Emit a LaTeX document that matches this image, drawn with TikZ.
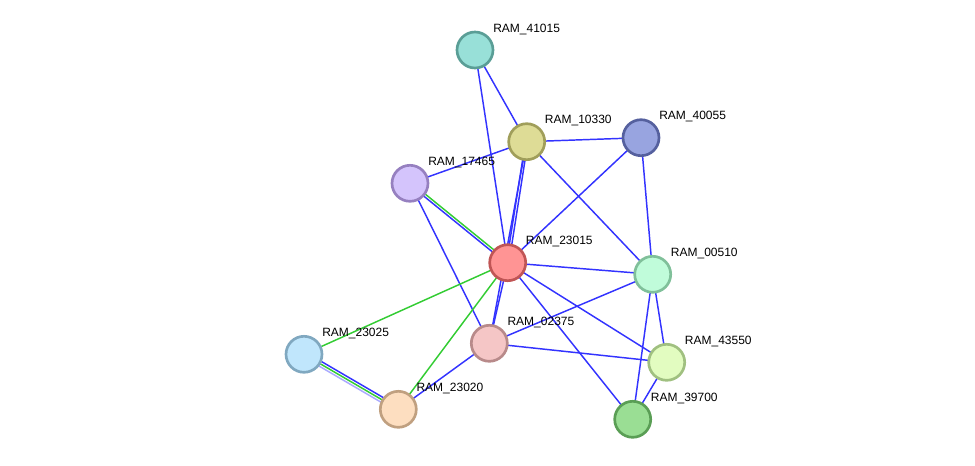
\documentclass[tikz,border=0pt]{standalone}
\usepackage{fontspec}
\setmainfont{Liberation Sans}
\pgfdeclarelayer{bg}
\pgfsetlayers{bg,main}
\definecolor{f41015}{HTML}{98E0D8}\definecolor{d41015}{HTML}{5A9E96}
\definecolor{f10330}{HTML}{DEDC96}\definecolor{d10330}{HTML}{A09E5A}
\definecolor{f40055}{HTML}{98A4E0}\definecolor{d40055}{HTML}{55609E}
\definecolor{f17465}{HTML}{D4C4FC}\definecolor{d17465}{HTML}{9680C0}
\definecolor{f23015}{HTML}{FF9494}\definecolor{d23015}{HTML}{C05555}
\definecolor{f00510}{HTML}{C0FCDA}\definecolor{d00510}{HTML}{80C09A}
\definecolor{f02375}{HTML}{F5C6C6}\definecolor{d02375}{HTML}{B88A8A}
\definecolor{f43550}{HTML}{E2FCC0}\definecolor{d43550}{HTML}{A0C080}
\definecolor{f23025}{HTML}{C0E6FC}\definecolor{d23025}{HTML}{80A8C0}
\definecolor{f23020}{HTML}{FDDEC0}\definecolor{d23020}{HTML}{C0A080}
\definecolor{f39700}{HTML}{9ADE94}\definecolor{d39700}{HTML}{5A9E55}
\definecolor{eblue}{HTML}{3333FF}
\definecolor{egreen}{HTML}{33CC33}
\definecolor{elight}{HTML}{AAAAFF}

\begin{document}
\begin{tikzpicture}[x=0.75pt,y=-0.75pt,
  p/.style={circle,draw=d#1,fill=f#1,line width=2pt,minimum size=27pt,inner sep=0pt},
  lbl/.style={anchor=base west,xshift=13.5pt,yshift=13.5pt,inner sep=0pt,font=\fontsize{9}{10}\selectfont},
  e/.style={eblue,line width=1.1pt},
  g/.style={egreen,line width=1.1pt},
  l/.style={elight,line width=1.1pt}]
\useasboundingbox (0,0) rectangle (975,465);
\node[p=41015] (r41015) at (475,50) {};
\node[p=10330] (r10330) at (526.7,141.7) {};
\node[p=40055] (r40055) at (641,137.7) {};
\node[p=17465] (r17465) at (410,183.3) {};
\node[p=23015] (r23015) at (507.7,262.7) {};
\node[p=00510] (r00510) at (652.7,274.3) {};
\node[p=02375] (r02375) at (489.3,343.3) {};
\node[p=43550] (r43550) at (666.7,362.3) {};
\node[p=23025] (r23025) at (304,354.3) {};
\node[p=23020] (r23020) at (398.3,409.3) {};
\node[p=39700] (r39700) at (632.7,419.3) {};
% names
\node[lbl] (t41015) at (r41015.center) {RAM\_41015};
\node[lbl] (t10330) at (r10330.center) {RAM\_10330};
\node[lbl] (t40055) at (r40055.center) {RAM\_40055};
\node[lbl] (t17465) at (r17465.center) {RAM\_17465};
\node[lbl] (t23015) at (r23015.center) {RAM\_23015};
\node[lbl] (t00510) at (r00510.center) {RAM\_00510};
\node[lbl] (t02375) at (r02375.center) {RAM\_02375};
\node[lbl] (t43550) at (r43550.center) {RAM\_43550};
\node[lbl] (t23025) at (r23025.center) {RAM\_23025};
\node[lbl] (t23020) at (r23020.center) {RAM\_23020};
\node[lbl] (t39700) at (r39700.center) {RAM\_39700};
\begin{pgfonlayer}{bg}
\draw[e] (r41015.center)--(r23015.center);
\draw[e] (r41015.center)--(r10330.center);
\draw[e] (r10330.center)--(r40055.center);
\draw[e] (r10330.center)--(r17465.center);
\draw[e,transform canvas={shift={(1.2,0.2)}}] (r10330.center)--(r23015.center);
\draw[e,transform canvas={shift={(-1.2,-0.2)}}] (r10330.center)--(r23015.center);
\draw[e] (r10330.center)--(r02375.center);
\draw[e] (r10330.center)--(r00510.center);
\draw[e] (r40055.center)--(r23015.center);
\draw[e] (r40055.center)--(r00510.center);
\draw[e,transform canvas={shift={(-0.8,0.95)}}] (r17465.center)--(r23015.center);
\draw[g,transform canvas={shift={(0.8,-0.95)}}] (r17465.center)--(r23015.center);
\draw[e] (r17465.center)--(r02375.center);
\draw[e] (r23015.center)--(r00510.center);
\draw[e] (r23015.center)--(r43550.center);
\draw[e] (r23015.center)--(r39700.center);
\draw[e] (r23015.center)--(r02375.center);
\draw[g] (r23015.center)--(r23025.center);
\draw[g] (r23015.center)--(r23020.center);
\draw[e] (r02375.center)--(r00510.center);
\draw[e] (r02375.center)--(r43550.center);
\draw[e] (r02375.center)--(r23020.center);
\draw[e,transform canvas={shift={(1.3,-2.2)}}] (r23025.center)--(r23020.center);
\draw[g] (r23025.center)--(r23020.center);
\draw[l,transform canvas={shift={(-1.3,2.2)}}] (r23025.center)--(r23020.center);
\draw[e] (r00510.center)--(r43550.center);
\draw[e] (r00510.center)--(r39700.center);
\draw[e] (r43550.center)--(r39700.center);
\end{pgfonlayer}
\end{tikzpicture}
\end{document}
